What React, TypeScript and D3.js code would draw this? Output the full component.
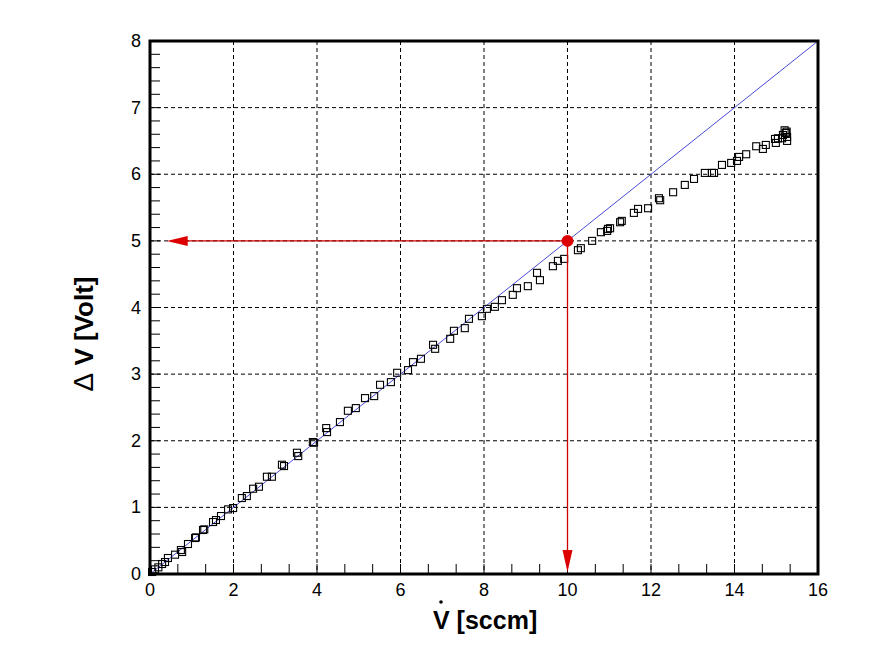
import React from "react";
import * as d3 from "d3";

const xVals = [0.05, 0.12, 0.2, 0.29, 0.36, 0.43, 0.6, 0.74, 0.77, 0.91, 1.08, 1.1, 1.27, 1.3, 1.51, 1.58, 1.7, 1.87, 1.99, 2.2, 2.32, 2.47, 2.61, 2.8, 2.92, 3.16, 3.21, 3.52, 3.55, 3.9, 3.93, 4.22, 4.24, 4.55, 4.74, 4.93, 5.15, 5.37, 5.51, 5.77, 5.92, 6.18, 6.3, 6.49, 6.78, 6.83, 7.19, 7.28, 7.54, 7.64, 7.95, 8.07, 8.26, 8.43, 8.69, 8.79, 9.05, 9.27, 9.34, 9.65, 9.77, 9.92, 10.25, 10.32, 10.59, 10.8, 10.95, 10.97, 11.02, 11.26, 11.3, 11.59, 11.69, 11.93, 12.19, 12.22, 12.53, 12.81, 13.03, 13.29, 13.46, 13.51, 13.7, 13.92, 14.06, 14.11, 14.28, 14.52, 14.68, 14.75, 14.99, 14.97, 15.04, 15.14, 15.16, 15.23, 15.26, 15.26, 15.2, 15.25];
const yVals = [0.03, 0.07, 0.1, 0.15, 0.18, 0.24, 0.29, 0.36, 0.33, 0.45, 0.54, 0.55, 0.66, 0.67, 0.78, 0.81, 0.87, 0.97, 0.99, 1.14, 1.17, 1.28, 1.31, 1.46, 1.46, 1.64, 1.62, 1.82, 1.77, 1.98, 1.97, 2.19, 2.13, 2.28, 2.45, 2.49, 2.64, 2.67, 2.84, 2.88, 3.02, 3.06, 3.18, 3.23, 3.44, 3.38, 3.53, 3.65, 3.69, 3.83, 3.87, 3.98, 4.01, 4.11, 4.19, 4.29, 4.32, 4.52, 4.41, 4.62, 4.7, 4.73, 4.86, 4.89, 5.0, 5.13, 5.15, 5.18, 5.19, 5.28, 5.3, 5.42, 5.48, 5.49, 5.64, 5.61, 5.73, 5.84, 5.93, 6.02, 6.02, 6.02, 6.14, 6.17, 6.2, 6.26, 6.3, 6.42, 6.38, 6.44, 6.47, 6.53, 6.54, 6.54, 6.59, 6.62, 6.5, 6.56, 6.66, 6.64];

const xTicks = [0, 2, 4, 6, 8, 10, 12, 14, 16];
const yTicks = [0, 1, 2, 3, 4, 5, 6, 7, 8];
const xMinorStep = 2 / 3;
const yMinorStep = 0.2;

const fitLine = [[0, 0], [16, 8]];
const readout = { x: 10, y: 5 };
const arrowTips = { x: 0.4, y: 0.03 };

export default function App() {
  const W = 877, H = 653;
  const left = 150, right = 818, top = 41, bottom = 574;
  const x = d3.scaleLinear().domain([0, 16]).range([left, right]);
  const y = d3.scaleLinear().domain([0, 8]).range([bottom, top]);

  const xMinor = d3.range(0, 16 + 1e-6, xMinorStep);
  const yMinor = d3.range(0, 8 + 1e-6, yMinorStep);

  const line = d3.line<number[]>().x(d => x(d[0])).y(d => y(d[1]));
  const sq = 7;
  const red = "#cc0000";
  const rx = x(readout.x), ry = y(readout.y);
  const hx = x(arrowTips.x);
  const vy = y(arrowTips.y);

  return (
    <svg width={W} height={H} style={{ position: "absolute", left: 0, top: 0, background: "#fff" }}
      fontFamily="'Liberation Sans', Arial, sans-serif">
      <rect width={W} height={H} fill="#fff" />
      {xTicks.slice(1, -1).map(t => (
        <line key={"gx" + t} x1={x(t)} x2={x(t)} y1={top} y2={bottom} stroke="#000" strokeWidth={1} strokeDasharray="4,3" />
      ))}
      {yTicks.slice(1, -1).map(t => (
        <line key={"gy" + t} x1={left} x2={right} y1={y(t)} y2={y(t)} stroke="#000" strokeWidth={1} strokeDasharray="4,3" />
      ))}
      {xMinor.map((t, i) => (
        <line key={"mx" + i} x1={x(t)} x2={x(t)} y1={bottom} y2={bottom - 10} stroke="#000" strokeWidth={1} />
      ))}
      {yMinor.map((t, i) => (
        <line key={"my" + i} x1={left} x2={left + 10} y1={y(t)} y2={y(t)} stroke="#000" strokeWidth={1} />
      ))}
      <path d={line(fitLine as number[][]) || ""} stroke="#4a4ad8" strokeWidth={1} fill="none" />
      {xVals.map((v, i) => (
        <rect key={"p" + i} x={x(v) - sq / 2} y={y(yVals[i]) - sq / 2} width={sq} height={sq}
          fill="none" stroke="#000" strokeWidth={1.1} />
      ))}
      <line x1={rx} x2={hx + 18} y1={ry} y2={ry} stroke={red} strokeWidth={1.3} />
      <path d={`M${hx},${ry} L${hx + 21},${ry - 5} L${hx + 21},${ry + 5} Z`} fill="#dd0000" />
      <line x1={rx} x2={rx} y1={ry} y2={vy - 18} stroke={red} strokeWidth={1.3} />
      <path d={`M${rx},${vy} L${rx - 5},${vy - 22} L${rx + 5},${vy - 22} Z`} fill="#dd0000" />
      <circle cx={rx} cy={ry} r={6} fill="#dd0000" />
      <rect x={left} y={top} width={right - left} height={bottom - top} fill="none" stroke="#000" strokeWidth={3} />
      {xTicks.map(t => (
        <text key={"xl" + t} x={x(t)} y={bottom + 22} fontSize={18} textAnchor="middle">{t}</text>
      ))}
      {yTicks.map(t => (
        <text key={"yl" + t} x={left - 9} y={y(t) + 6} fontSize={18} textAnchor="end">{t}</text>
      ))}
      <text x={433} y={629} fontSize={25} fontWeight="bold">V [sccm]</text>
      <circle cx={441} cy={602} r={1.8} fill="#000" />
      <text transform={`translate(93,334) rotate(-90)`} fontSize={26} fontWeight="bold" textAnchor="middle">
        <tspan fontWeight="normal" fontSize={28}>Δ</tspan> V [Volt]</text>
    </svg>
  );
}
